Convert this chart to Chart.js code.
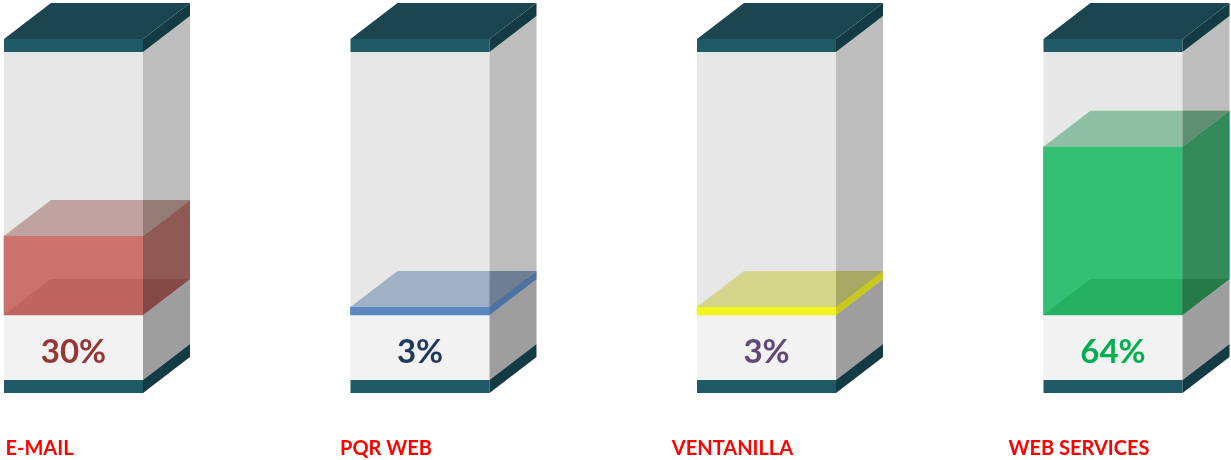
<!DOCTYPE html>
<html>
<head>
<meta charset="utf-8">
<script src="https://cdn.jsdelivr.net/npm/chart.js@4.4.1/dist/chart.umd.min.js"></script>
<style>
  html, body { margin: 0; padding: 0; background: #fff; }
</style>
</head>
<body>
<canvas id="grafico" width="1231" height="460"></canvas>
<script>
// Datos del gráfico
const categorias = ['E-MAIL', 'PQR WEB', 'VENTANILLA', 'WEB SERVICES'];
const porcentajes = [30, 3, 3, 64];

// Colores de cada barra (frente, tapa, lado, fondo-frente, fondo-lado, tapa sobre lado)
const colFrente = ['#cc726d', '#5b88c0', '#f4f41e', '#33bf74'];
const colTapa = ['#c0a3a1', '#a0b0c5', '#d4d48a', '#8cbfa3'];
const colLado = ['#8f5954', '#4d72a0', '#c8c81e', '#338a5a'];
const colFondo = ['#bf6460', '#5b88c0', '#f4f41e', '#24b060'];
const colFondoLado = ['#854a45', '#4d72a0', '#c8c81e', '#267a49'];
const colTapaLado = ['#957a76', '#6f7f93', '#a8a865', '#5e8f73'];
const colTexto = ['#953735', '#1f3a5f', '#5f497a', '#00b050'];

const DX = 47, DY = 36;      // profundidad del cubo
const CAPA = 13;             // grosor de las tapas oscuras
const BASE = 65;             // zona blanca con el porcentaje

function poly(ctx, pts, color) {
    ctx.beginPath();
    ctx.moveTo(pts[0][0], pts[0][1]);
    for (let i = 1; i < pts.length; i++) ctx.lineTo(pts[i][0], pts[i][1]);
    ctx.closePath();
    ctx.fillStyle = color;
    ctx.fill();
}

const cubo3d = {
    id: 'cubo3d',
    beforeDatasetsDraw(chart) {
        const ctx = chart.ctx;
        const yS = chart.scales.y;
        const yTop = yS.getPixelForValue(100);
        const yB = yS.getPixelForValue(0);
        chart.getDatasetMeta(0).data.forEach(el => {
            const x0 = el.x - el.width / 2, x1 = el.x + el.width / 2, w = el.width;
            ctx.save();
            // frente del contenedor
            ctx.fillStyle = '#e7e7e7'; ctx.fillRect(x0, yTop, w, yB - yTop);
            ctx.fillStyle = '#f2f2f2'; ctx.fillRect(x0, yB, w, BASE);
            ctx.fillStyle = '#1f5a66'; ctx.fillRect(x0, yB + BASE, w, CAPA);
            // lados
            poly(ctx, [[x1, yTop], [x1 + DX, yTop - DY], [x1 + DX, yB - DY], [x1, yB]], '#bdbdbd');
            poly(ctx, [[x1, yB], [x1 + DX, yB - DY], [x1 + DX, yB + BASE - DY], [x1, yB + BASE]], '#9e9e9e');
            poly(ctx, [[x1, yB + BASE], [x1 + DX, yB + BASE - DY], [x1 + DX, yB + BASE + CAPA - DY], [x1, yB + BASE + CAPA]], '#143b44');
            // tapa superior
            ctx.fillStyle = '#1f5a66'; ctx.fillRect(x0, yTop - CAPA, w, CAPA);
            poly(ctx, [[x1, yTop - CAPA], [x1 + DX, yTop - CAPA - DY], [x1 + DX, yTop - DY], [x1, yTop]], '#143b44');
            poly(ctx, [[x0, yTop - CAPA], [x1, yTop - CAPA], [x1 + DX, yTop - CAPA - DY], [x0 + DX, yTop - CAPA - DY]], '#1b4650');
            ctx.restore();
        });
    },
    afterDatasetsDraw(chart) {
        const ctx = chart.ctx;
        chart.getDatasetMeta(0).data.forEach((el, i) => {
            const x0 = el.x - el.width / 2, x1 = el.x + el.width / 2;
            const yT = el.y, yB = el.base;
            ctx.save();
            // fondo visto a través del frente
            ctx.save();
            ctx.beginPath(); ctx.rect(x0, yT, el.width, yB - yT); ctx.clip();
            poly(ctx, [[x0, yB], [x1, yB], [x1, yB - DY], [x0 + DX, yB - DY]], colFondo[i]);
            ctx.restore();
            // lado derecho
            poly(ctx, [[x1, yT], [x1 + DX, yT - DY], [x1 + DX, yB - DY], [x1, yB]], colLado[i]);
            poly(ctx, [[x1, yB], [x1 + DX, yB - DY], [x1, yB - DY]], colFondoLado[i]);
            // tapa
            poly(ctx, [[x0, yT], [x1, yT], [x1, yT - DY], [x0 + DX, yT - DY]], colTapa[i]);
            poly(ctx, [[x1, yT], [x1 + DX, yT - DY], [x1, yT - DY]], colTapaLado[i]);
            // porcentaje
            ctx.fillStyle = colTexto[i];
            ctx.font = 'bold 33px Lato';
            ctx.textAlign = 'center';
            ctx.textBaseline = 'middle';
            ctx.fillText(porcentajes[i] + '%', el.x, yB + BASE / 2 + 5);
            // categoría
            ctx.fillStyle = '#ff0000';
            ctx.font = 'bold 20px Lato';
            ctx.fillText(categorias[i], el.x - 34, 449);
            ctx.restore();
        });
    }
};

new Chart(document.getElementById('grafico'), {
    type: 'bar',
    data: {
        labels: categorias,
        datasets: [{
            data: porcentajes,
            backgroundColor: colFrente,
            borderWidth: 0,
            barThickness: 139,
            clip: false
        }]
    },
    options: {
        responsive: false,
        animation: false,
        devicePixelRatio: 1,
        layout: { padding: { left: 73.5, right: 118, top: 52, bottom: 145 } },
        plugins: {
            legend: { display: false },
            tooltip: { enabled: false }
        },
        scales: {
            x: { display: false, offset: false },
            y: { display: false, min: 0, max: 100 }
        }
    },
    plugins: [cubo3d]
});
</script>
</body>
</html>
